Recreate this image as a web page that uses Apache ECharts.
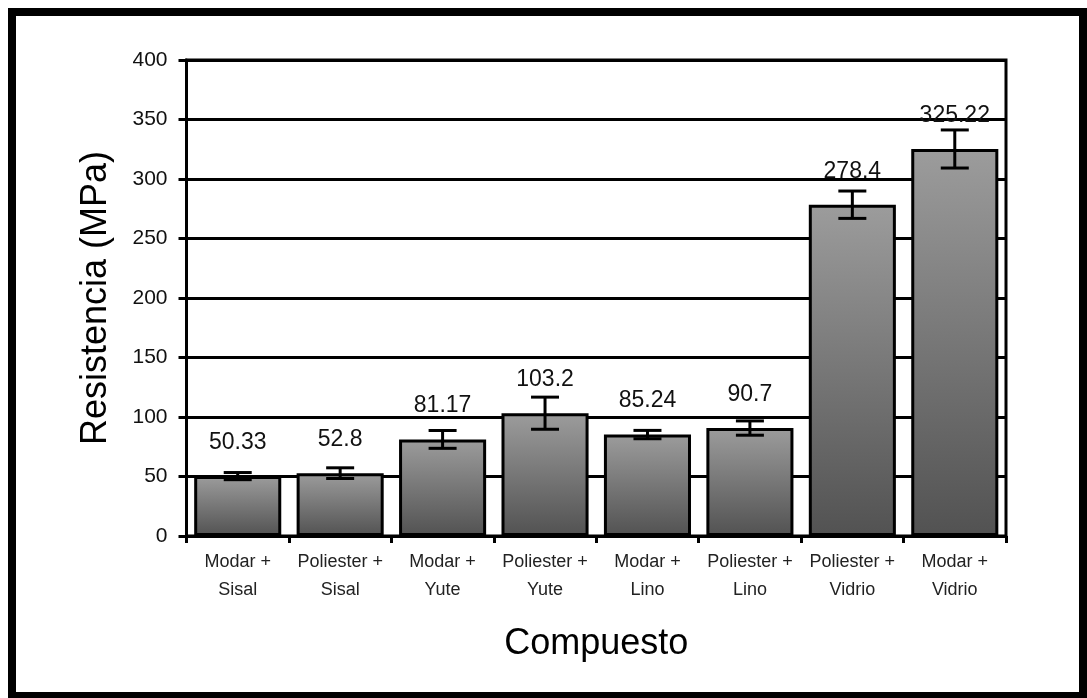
<!DOCTYPE html>
<html>
<head>
<meta charset="utf-8">
<script src="https://cdn.jsdelivr.net/npm/echarts@6/dist/echarts.min.js"></script>
<style>
html,body{margin:0;padding:0;background:#fff;}
#chart{width:1087px;height:698px;}
</style>
</head>
<body>
<div id="chart"></div>
<script>
const categories = ['Modar +\nSisal','Poliester +\nSisal','Modar +\nYute','Poliester +\nYute','Modar +\nLino','Poliester +\nLino','Poliester +\nVidrio','Modar +\nVidrio'];
const values = [50.33, 52.8, 81.17, 103.2, 85.24, 90.7, 278.4, 325.22];
const errors = [3, 4.5, 7.5, 13.5, 3.5, 6, 11.5, 16];
const yTicks = [0, 50, 100, 150, 200, 250, 300, 350, 400];

const chart = echarts.init(document.getElementById('chart'));
const FONT = '"Liberation Sans", Arial, sans-serif';
const errData = values.map((v, i) => [i, v - errors[i], v + errors[i]]);

chart.setOption({
  animation: false,
  backgroundColor: '#fff',
  textStyle: {fontFamily: FONT},
  graphic: [{
    type: 'rect', silent: true, z: 100,
    shape: {x: 12, y: 12, width: 1071, height: 684},
    style: {fill: 'none', stroke: '#000', lineWidth: 8}
  }],
  grid: {left: 186.5, right: 81, top: 60, bottom: 162, show: true, borderColor: '#000', borderWidth: 3, backgroundColor: 'transparent'},
  xAxis: {
    type: 'category',
    data: categories,
    name: 'Compuesto',
    nameLocation: 'middle',
    nameGap: 90,
    nameTextStyle: {fontSize: 36, color: '#000', fontFamily: FONT},
    axisLine: {lineStyle: {color: '#000', width: 3}},
    axisTick: {show: true, length: 7, lineStyle: {color: '#000', width: 3}},
    axisLabel: {fontSize: 18, color: '#222', lineHeight: 28, margin: 12, interval: 0, fontFamily: FONT},
    splitLine: {show: false}
  },
  yAxis: {
    type: 'value',
    min: 0, max: 400, interval: 50,
    name: 'Resistencia (MPa)',
    nameLocation: 'middle',
    nameRotate: 90,
    nameGap: 72,
    nameTextStyle: {fontSize: 36, color: '#000', fontFamily: FONT},
    axisLine: {show: true, lineStyle: {color: '#000', width: 3}},
    axisTick: {show: true, inside: false, length: 8, lineStyle: {color: '#000', width: 3}},
    axisLabel: {fontSize: 21, color: '#111', margin: 19, fontFamily: FONT,
      formatter: v => yTicks.includes(v) ? String(v) : ''},
    splitLine: {show: true, lineStyle: {color: '#000', width: 3}}
  },
  series: [{
    type: 'bar',
    data: values,
    barCategoryGap: '15%',
    itemStyle: {
      color: new echarts.graphic.LinearGradient(0, 0, 0, 1, [
        {offset: 0, color: '#9c9c9c'},
        {offset: 1, color: '#525252'}
      ]),
      borderColor: '#000',
      borderWidth: 3
    },
    label: {
      show: true, position: 'top', distance: 22,
      fontSize: 23, color: '#111', fontFamily: FONT,
      formatter: p => String(values[p.dataIndex])
    },
    z: 2
  }, {
    type: 'custom',
    data: errData,
    z: 5,
    renderItem: function (params, api) {
      const x = api.value(0);
      const lo = api.coord([x, api.value(1)]);
      const hi = api.coord([x, api.value(2)]);
      const hw = 14;
      const st = {stroke: '#000', lineWidth: 3};
      return {
        type: 'group',
        children: [
          {type: 'line', shape: {x1: lo[0], y1: lo[1], x2: hi[0], y2: hi[1]}, style: st},
          {type: 'line', shape: {x1: lo[0] - hw, y1: lo[1], x2: lo[0] + hw, y2: lo[1]}, style: st},
          {type: 'line', shape: {x1: hi[0] - hw, y1: hi[1], x2: hi[0] + hw, y2: hi[1]}, style: st}
        ]
      };
    }
  }]
});
</script>
</body>
</html>
